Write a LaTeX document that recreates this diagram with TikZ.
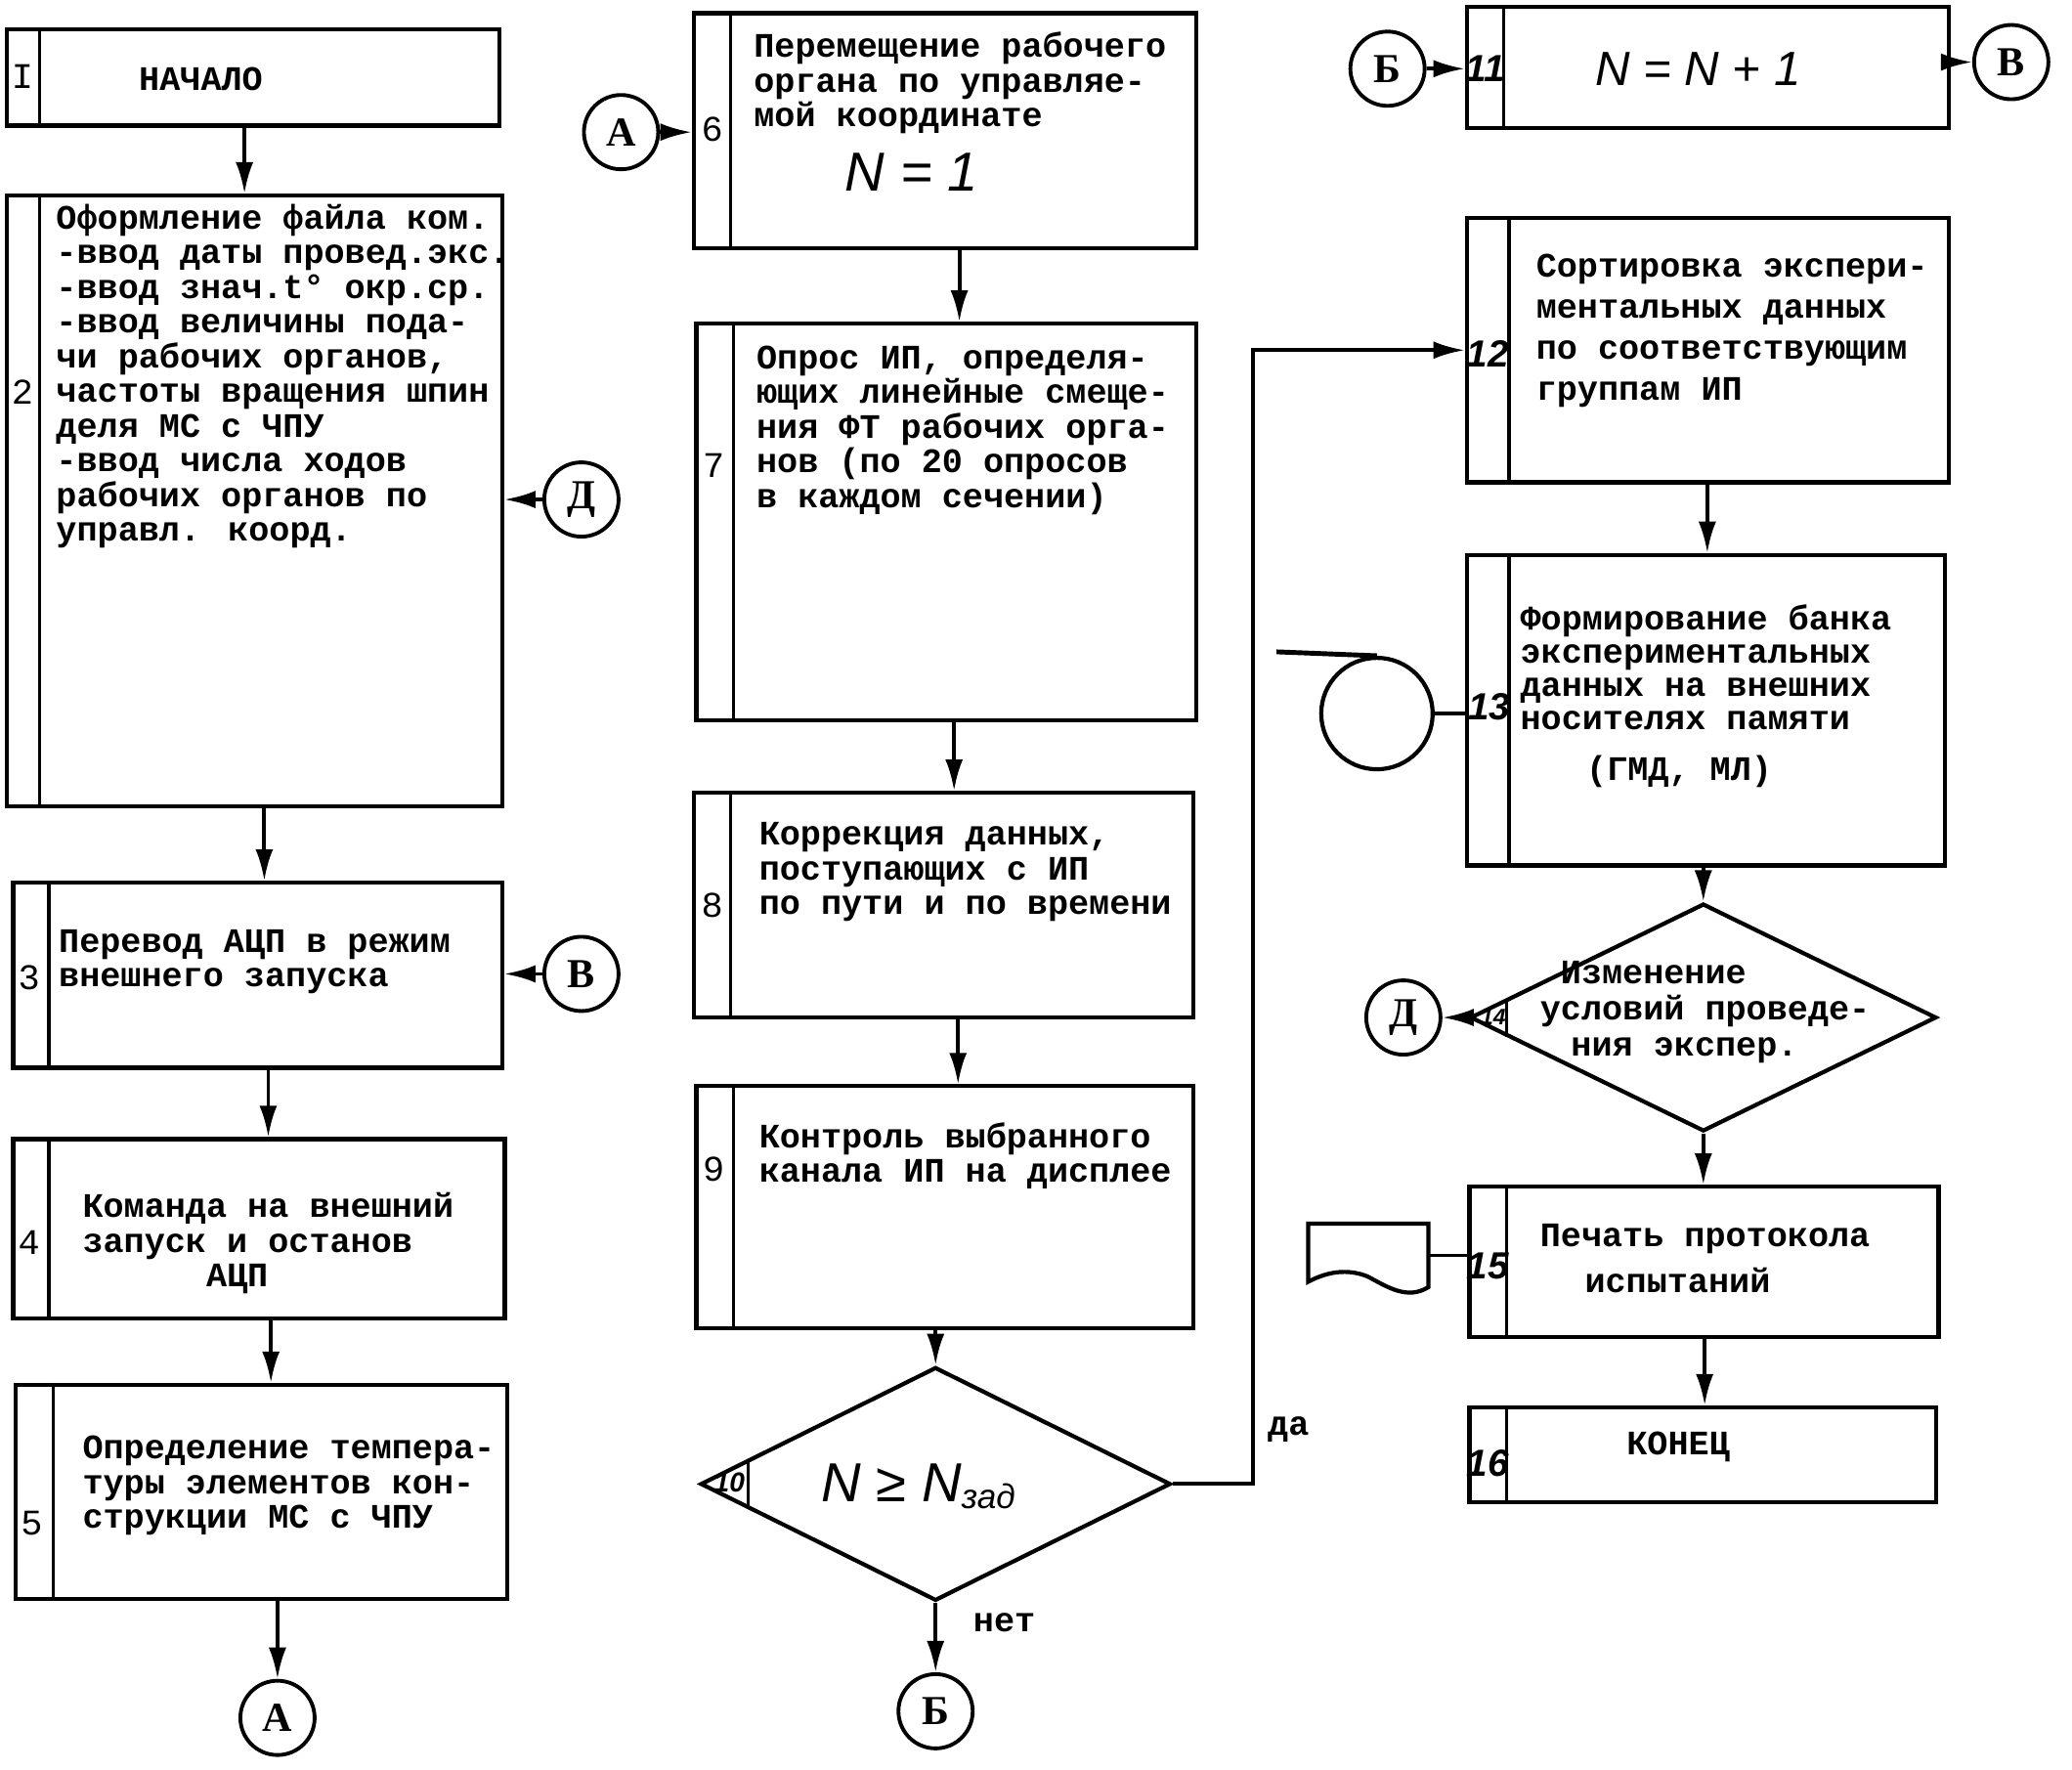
\documentclass[tikz,border=0pt]{standalone}
\usepackage{fontspec}
\setmainfont{Liberation Mono}
\newfontfamily\handfont{Liberation Sans}
\newfontfamily\serfont{Liberation Serif}
\usetikzlibrary{shapes.geometric,fit,arrows.meta,calc}
\tikzset{blk/.style={draw,line width=1.2pt,inner sep=0pt},
	strip/.style={line width=0.9pt},
	txt/.style={anchor=north west,align=left,inner sep=0pt,font=\bfseries\fontsize{10}{10.1}\selectfont},
	num/.style={inner sep=0pt,font=\fontsize{10.5}{10.5}\selectfont},
	hnum/.style={inner sep=0pt,font=\handfont\bfseries\itshape\fontsize{11}{11}\selectfont},
	formula/.style={inner sep=0pt,font=\handfont\itshape\fontsize{16}{16}\selectfont},
	conn/.style={circle,draw,line width=1.1pt,minimum size=0.76cm,inner sep=0pt,font=\serfont\bfseries\fontsize{12}{12}\selectfont},
	dec/.style={diamond,draw,line width=1.2pt,inner sep=0pt},
	arr/.style={-{Latex[length=3.2mm,width=1.8mm]},line width=1.1pt}}

\begin{document}
\begin{tikzpicture}[x=0.01352cm,y=-0.01352cm]
	\useasboundingbox (0,0) rectangle (1568,1339);
	% column 1
	\node[blk,fit={(5,22) (378,95)}] (b1) {};
	\node[blk,fit={(5,148) (380,610)}] (b2) {};
	\node[blk,fit={(10,668) (380,808)}] (b3) {};
	\node[blk,fit={(10,862) (382,998)}] (b4) {};
	\node[blk,fit={(12,1048) (384,1210)}] (b5) {};
	% column 2
	\node[blk,fit={(525,10) (905,188)}] (b6) {};
	\node[blk,fit={(527,245) (905,545)}] (b7) {};
	\node[blk,fit={(525,600) (903,770)}] (b8) {};
	\node[blk,fit={(527,822) (903,1005)}] (b9) {};
	\node[dec,minimum width=4.81cm,minimum height=2.39cm] (d10) at (708,1123) {};
	% column 3
	\node[blk,fit={(1110,5) (1475,97)}] (b11) {};
	\node[blk,fit={(1110,165) (1475,365)}] (b12) {};
	\node[blk,fit={(1110,420) (1472,655)}] (b13) {};
	\node[dec,minimum width=4.77cm,minimum height=2.33cm] (d14) at (1289,770) {};
	\node[blk,fit={(1112,898) (1467,1012)}] (b15) {};
	\node[blk,fit={(1112,1065) (1465,1137)}] (b16) {};

	\foreach \b/\s in {b1/30,b2/30,b3/37,b4/37,b5/40,b6/553,b7/555,b8/553,b9/555,
			b11/1138,b12/1142,b13/1142,b15/1140,b16/1140}
		\draw[strip] (\b.north -| \s,0) -- (\b.south -| \s,0);
	\draw[strip] ($(d10.west)!0.21!(d10.north)$) -- ($(d10.west)!0.21!(d10.south)$);
	\draw[strip] ($(d14.west)!0.165!(d14.north)$) -- ($(d14.west)!0.165!(d14.south)$);

	% numbers
	\node[num] (n1) at (17,58) {I};
	\node[num] (n2) at (17,297) {2};
	\node[num] (n3) at (22,740) {3};
	\node[num] (n4) at (22,940) {4};
	\node[num] (n5) at (24,1153) {5};
	\node[num] (n6) at (539,98) {6};
	\node[num] (n7) at (540,352) {7};
	\node[num] (n8) at (539,685) {8};
	\node[num] (n9) at (540,885) {9};
	\node[hnum,font=\handfont\bfseries\itshape\fontsize{8}{8}\selectfont] (n10) at (552,1122) {10};
	\node[hnum] (n11) at (1124,52) {11};
	\node[hnum] (n12) at (1126,268) {12};
	\node[hnum] (n13) at (1127,535) {13};
	\node[hnum,font=\handfont\bfseries\itshape\fontsize{6.5}{6.5}\selectfont] (n14) at (1130,770) {14};
	\node[hnum] (n15) at (1126,958) {15};
	\node[hnum] (n16) at (1126,1107) {16};

	% texts
	\node[txt,anchor=center] (t1) at (152,60) {НАЧАЛО};
	\node[txt] (t2) at (42,154) {Оформление файла ком.\\-ввод даты провед.экс.\\-ввод знач.t° окр.ср.\\
		-ввод величины пода-\\чи рабочих органов,\\частоты вращения шпин\\деля МС с ЧПУ\\
		-ввод числа ходов\\рабочих органов по\\управл. коорд.};
	\node[txt] (t3) at (44,703) {Перевод АЦП в режим\\внешнего запуска};
	\node[txt] (t4) at (62,902) {Команда на внешний\\запуск и останов\\\hspace*{36pt}АЦП};
	\node[txt] (t5) at (62,1086) {Определение темпера-\\туры элементов кон-\\струкции МС с ЧПУ};
	\node[txt] (t6) at (570,24) {Перемещение рабочего\\органа по управляе-\\мой координате};
	\node[formula] (f6) at (690,130) {N = 1};
	\node[txt] (t7) at (572,261) {Опрос ИП, определя-\\ющих линейные смеще-\\ния ФТ рабочих орга-\\
		нов (по 20 опросов\\в каждом сечении)};
	\node[txt] (t8) at (574,622) {Коррекция данных,\\поступающих с ИП\\по пути и по времени};
	\node[txt] (t9) at (574,849) {Контроль выбранного\\канала ИП на дисплее};
	\node[formula] (f10) at (695,1125) {N ≥ N\raisebox{-0.25ex}{\fontsize{10}{10}\selectfont зад}};
	\node[formula,font=\handfont\itshape\fontsize{14}{14}\selectfont] (f11) at (1285,52) {N = N + 1};
	\node[txt,font=\bfseries\fontsize{10}{11.9}\selectfont] (t12) at (1162,192)
		{Сортировка экспери-\\ментальных данных\\по соответствующим\\группам ИП};
	\node[txt,font=\bfseries\fontsize{10}{9.7}\selectfont] (t13) at (1150,457)
		{Формирование банка\\экспериментальных\\данных на внешних\\носителях памяти};
	\node[txt] (t13b) at (1200,571) {(ГМД, МЛ)};
	\node[txt,font=\bfseries\fontsize{10}{10.5}\selectfont] (t14) at (1165,727)
		{\hspace*{6pt}Изменение\\условий проведе-\\\hspace*{9pt}ния экспер.};
	\node[txt,font=\bfseries\fontsize{10}{13.3}\selectfont] (t15) at (1165,926)
		{Печать протокола\\\hspace*{13pt}испытаний};
	\node[txt,anchor=center] (t16) at (1270,1095) {КОНЕЦ};

	% connectors
	\node[conn] (cD1) at (440,378) {Д};
	\node[conn] (cV1) at (440,737) {В};
	\node[conn] (cA1) at (210,1300) {А};
	\node[conn] (cA2) at (470,100) {А};
	\node[conn] (cB1) at (708,1295) {Б};
	\node[conn] (cB2) at (1050,52) {Б};
	\node[conn] (cV2) at (1522,47) {В};
	\node[conn] (cD2) at (1062,770) {Д};

	% storage symbols
	\node[circle,draw,line width=1.2pt,minimum size=1.14cm] (tape) at (1042,540) {};
	\draw[line width=1.4pt] (tape.north) -- ++(-76,-3);
	\coordinate (doc) at (1081,950);
	\draw[line width=1.2pt] (1081,926) -- (990,926) -- (990,970)
		.. controls (1005,962) and (1020,960) .. (1035,966)
		.. controls (1050,974) and (1065,984) .. (1081,974) -- cycle;

	% arrows
	\draw[arr] (b1.south -| 185,0) -- (b2.north -| 185,0);
	\draw[arr] (b2.south -| 200,0) -- (b3.north -| 200,0);
	\draw[arr] (b3.south -| 203,0) -- (b4.north -| 203,0);
	\draw[arr] (b4.south -| 205,0) -- (b5.north -| 205,0);
	\draw[arr] (b5.south -| cA1) -- (cA1);
	\draw[arr] (cD1) -- (cD1 -| b2.east);
	\draw[arr] (cV1) -- (cV1 -| b3.east);
	\draw[arr] (cA2) -- (cA2 -| b6.west);
	\draw[arr] (b6.south -| 726,0) -- (b7.north -| 726,0);
	\draw[arr] (b7.south -| 722,0) -- (b8.north -| 722,0);
	\draw[arr] (b8.south -| 725,0) -- (b9.north -| 725,0);
	\draw[arr] (b9.south -| d10.north) -- (d10.north);
	\draw[arr] (d10.south) -- (cB1);
	\draw[arr] (d10.east) -| ($(b12.west)+(-160,0)$) -- (b12.west);
	\node[txt,anchor=center] (yes) at (975,1082) {да};
	\node[txt,anchor=center] (no) at (760,1228) {нет};
	\draw[arr] (cB2) -- (cB2 -| b11.west);
	\draw[arr] (b11.east |- cV2) -- (cV2);
	\draw[arr] (b12.south -| 1292,0) -- (b13.north -| 1292,0);
	\draw[line width=1.1pt] (tape) -- (tape -| b13.west);
	\draw[arr] (b13.south -| d14.north) -- (d14.north);
	\draw[arr] (d14.west) -- (cD2);
	\draw[arr] (d14.south) -- (d14.south |- b15.north);
	\draw[line width=1.1pt] (doc) -- (doc -| b15.west);
	\draw[arr] (b15.south -| 1290,0) -- (b16.north -| 1290,0);
\end{tikzpicture}
\end{document}
